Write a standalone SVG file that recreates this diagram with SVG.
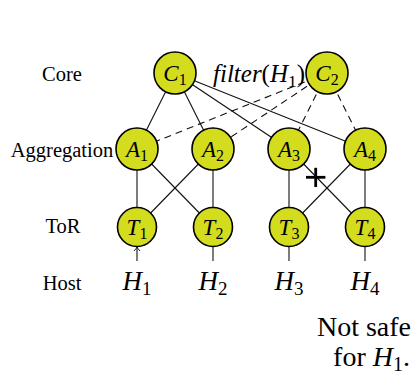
<svg xmlns="http://www.w3.org/2000/svg" width="414" height="376" viewBox="0 0 414 376">
<defs>
<style>
text{font-family:'Liberation Serif',serif}
.node circle{fill:#d4dc1e;stroke:#000;stroke-width:1.6}
.nl{font-style:italic;font-size:23px;text-anchor:middle;fill:#000}
.sub{font-style:normal;font-size:16px}
.lab{font-size:20.5px;text-anchor:middle;fill:#000}
.host{font-style:italic;font-size:27px;text-anchor:middle;fill:#000}
.hsub{font-style:normal;font-size:19px}
.edge line{stroke:#111;stroke-width:1.1;fill:none}
.edge .dash{stroke-dasharray:7 5}
.note{font-size:28px;text-anchor:end;fill:#000}
</style>
<marker id="arr" viewBox="-5 -4 6 8" markerWidth="6" markerHeight="8" refX="0" refY="0" orient="auto" markerUnits="userSpaceOnUse">
<path d="M-4,-3 Q-1.5,-0.6 0,0 Q-1.5,0.6 -4,3" fill="none" stroke="#111" stroke-width="0.9"/>
</marker>
</defs>
<rect width="414" height="376" fill="#fff"/>

<g id="labels">
<text class="lab" x="62" y="81">Core</text>
<text class="lab" x="62" y="157">Aggregation</text>
<text class="lab" x="63" y="233">ToR</text>
<text class="lab" x="62" y="290">Host</text>
</g>

<g id="connectors" class="edge">
<line x1="175" y1="73" x2="137" y2="149"/>
<line x1="175" y1="73" x2="213" y2="149"/>
<line x1="175" y1="73" x2="289" y2="149"/>
<line x1="175" y1="73" x2="365" y2="149"/>
<line class="dash" x1="327" y1="73" x2="137" y2="149"/>
<line class="dash" x1="327" y1="73" x2="213" y2="149"/>
<line class="dash" x1="327" y1="73" x2="289" y2="149"/>
<line class="dash" x1="327" y1="73" x2="365" y2="149"/>
<line x1="137" y1="149" x2="137" y2="227"/>
<line x1="137" y1="149" x2="213" y2="227"/>
<line x1="213" y1="149" x2="137" y2="227"/>
<line x1="213" y1="149" x2="213" y2="227"/>
<line x1="289" y1="149" x2="289" y2="227"/>
<line x1="289" y1="149" x2="365" y2="227"/>
<line x1="365" y1="149" x2="289" y2="227"/>
<line x1="365" y1="149" x2="365" y2="227"/>
<line x1="137" y1="261" x2="137" y2="247" marker-end="url(#arr)"/>
<line x1="213" y1="246" x2="213" y2="261"/>
<line x1="289" y1="246" x2="289" y2="261"/>
<line x1="365" y1="246" x2="365" y2="261"/>
</g>

<g id="cut" stroke="#000" stroke-width="2.8">
<line x1="306" y1="177.3" x2="325.4" y2="177.3"/>
<line x1="315.7" y1="167.8" x2="315.7" y2="187"/>
</g>

<g id="C1" class="node"><circle cx="175" cy="73" r="21"/><text class="nl" x="175" y="80.5">C<tspan class="sub" dy="4">1</tspan></text></g>
<g id="C2" class="node"><circle cx="327" cy="73" r="21"/><text class="nl" x="327" y="80.5">C<tspan class="sub" dy="4">2</tspan></text></g>
<g id="A1" class="node"><circle cx="137" cy="149" r="21"/><text class="nl" x="137" y="156.5">A<tspan class="sub" dy="4">1</tspan></text></g>
<g id="A2" class="node"><circle cx="213" cy="149" r="21"/><text class="nl" x="213" y="156.5">A<tspan class="sub" dy="4">2</tspan></text></g>
<g id="A3" class="node"><circle cx="289" cy="149" r="21"/><text class="nl" x="289" y="156.5">A<tspan class="sub" dy="4">3</tspan></text></g>
<g id="A4" class="node"><circle cx="365" cy="149" r="21"/><text class="nl" x="365" y="156.5">A<tspan class="sub" dy="4">4</tspan></text></g>
<g id="T1" class="node"><circle cx="137" cy="227" r="19.5"/><text class="nl" x="137" y="234.5">T<tspan class="sub" dy="4">1</tspan></text></g>
<g id="T2" class="node"><circle cx="213" cy="227" r="19.5"/><text class="nl" x="213" y="234.5">T<tspan class="sub" dy="4">2</tspan></text></g>
<g id="T3" class="node"><circle cx="289" cy="227" r="19.5"/><text class="nl" x="289" y="234.5">T<tspan class="sub" dy="4">3</tspan></text></g>
<g id="T4" class="node"><circle cx="365" cy="227" r="19.5"/><text class="nl" x="365" y="234.5">T<tspan class="sub" dy="4">4</tspan></text></g>

<g id="H1"><text class="host" x="137" y="290">H<tspan class="hsub" dy="5">1</tspan></text></g>
<g id="H2"><text class="host" x="213" y="290">H<tspan class="hsub" dy="5">2</tspan></text></g>
<g id="H3"><text class="host" x="289" y="290">H<tspan class="hsub" dy="5">3</tspan></text></g>
<g id="H4"><text class="host" x="365" y="290">H<tspan class="hsub" dy="5">4</tspan></text></g>

<g id="filter-label"><text x="213" y="82" font-size="25" font-style="italic" fill="#000">filter<tspan font-style="normal">(</tspan>H<tspan font-style="normal" font-size="17.5" dy="4.5">1</tspan><tspan font-style="normal" dy="-4.5">)</tspan></text></g>

<g id="note">
<text class="note" x="411" y="336">Not safe</text>
<text class="note" x="410" y="366">for <tspan font-style="italic">H</tspan><tspan font-size="20" dy="5">1</tspan><tspan dy="-5">.</tspan></text>
</g>
</svg>
